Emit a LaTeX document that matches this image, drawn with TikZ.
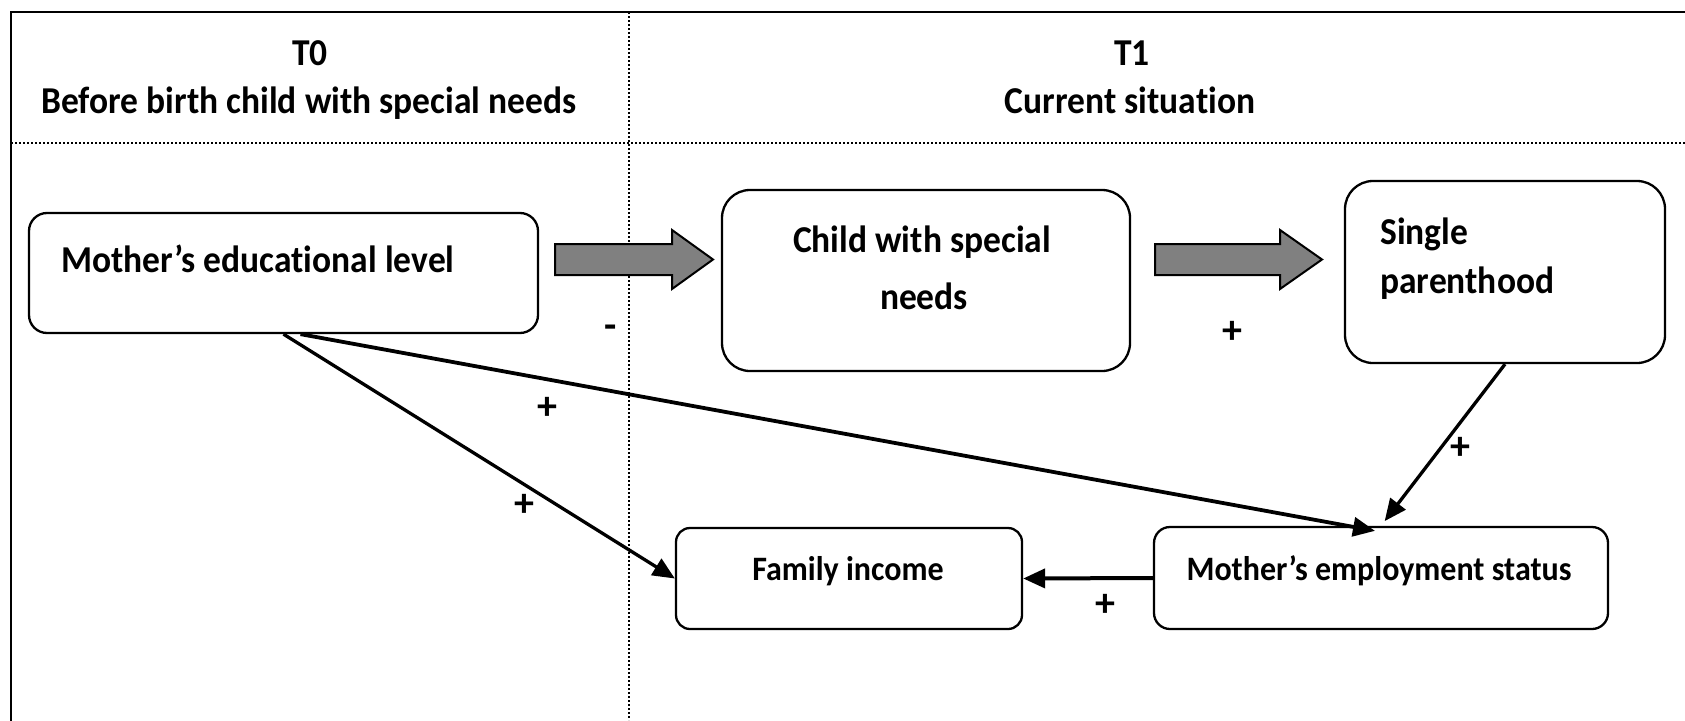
\documentclass[tikz,border=0pt]{standalone}
\usepackage{fontspec}
\usepackage{graphicx}
\setmainfont{Carlito}[Ligatures=NoCommon]
\usetikzlibrary{arrows.meta}
\definecolor{arrgray}{HTML}{808080}
\newcommand{\tall}[1]{\scalebox{1}[1.07]{#1}}
\begin{document}
\begin{tikzpicture}[x=1pt,y=-1pt,
  box/.style={draw, line width=2.3pt, rectangle, inner sep=0pt},
  big/.style={font=\fontsize{35.5}{40}\selectfont\bfseries, inner sep=0pt},
  sml/.style={font=\fontsize{32}{38}\selectfont\bfseries, inner sep=0pt},
  sign/.style={font=\fontsize{40}{44}\selectfont\bfseries, inner sep=0pt},
  conn/.style={line width=3.3pt, -{Triangle[length=22pt,width=19pt]}},
  blockarrow/.style={draw, line width=2pt, fill=arrgray, line join=miter},
  sep/.style={line width=1.6pt, dash pattern=on 1.6pt off 2.4pt}
]
\useasboundingbox (0,0) rectangle (1685,720);

% frame and separators
\draw[line width=2.3pt] (11,722) -- (11,12) -- (1688,12);
\draw[sep] (629,12) -- (629,720);
\draw[sep] (11,143) -- (1685,143);

% headers
\node[big, anchor=base] (t0) at (310,65) {\tall{T0}};
\node[big, anchor=base] (t0b) at (309,113) {\tall{Before birth child with special needs}};
\node[big, anchor=base] (t1) at (1132,65) {\tall{T1}};
\node[big, anchor=base] (t1b) at (1130,113) {\tall{Current situation}};

% boxes
\node[box, rounded corners=18pt, minimum width=509pt, minimum height=120pt] (MEL) at (283.5,273) {};
\node[box, rounded corners=28pt, minimum width=408pt, minimum height=181pt] (CSN) at (926,280.5) {};
\node[box, rounded corners=28pt, minimum width=320pt, minimum height=182pt] (SP) at (1505,272) {};
\node[box, rounded corners=14pt, minimum width=346pt, minimum height=101pt] (FI) at (849,578.5) {};
\node[box, rounded corners=16pt, minimum width=454pt, minimum height=102pt] (MES) at (1381,578) {};

% box texts
\node[big, anchor=base west] (melt) at (61,272) {\tall{Mother’s educational level}};
\node[big, anchor=base] (csnt1) at (922,252) {\tall{Child with special}};
\node[big, anchor=base] (csnt2) at (924,309) {\tall{needs}};
\node[big, anchor=base west] (spt1) at (1380,244) {\tall{Single}};
\node[big, anchor=base west] (spt2) at (1380,293) {\tall{parenthood}};
\node[sml, anchor=base] (fit) at (848,580) {\tall{Family income}};
\node[sml, anchor=base] (mest) at (1379,580) {\tall{Mother’s employment status}};

% block arrows
\draw[blockarrow, shift={(555,259.5)}] (0,-15.5) -- (117,-15.5) -- (117,-29.5) -- (158,0) -- (117,29.5) -- (117,15.5) -- (0,15.5) -- cycle;
\draw[blockarrow, shift={(1155,259.5)}] (0,-15.5) -- (125,-15.5) -- (125,-29.5) -- (167,0) -- (125,29.5) -- (125,15.5) -- (0,15.5) -- cycle;

% connectors
\draw[conn] (MEL.south) -- (FI.west);
\draw[conn, line width=3.8pt] ([xshift=17pt]MEL.south) -- ([xshift=-6pt,yshift=-5pt]MES.north);
\draw[conn, shorten >=6pt] (SP.south) -- (MES.north);
\draw[conn, line width=4pt] (MES.west) -- (FI.east);

% signs
\node[sign] (s1) at (611,332) {-};
\node[sign] (s2) at (1232,332) {+};
\node[sign] (s3) at (547,408) {+};
\node[sign] (s4) at (524,505) {+};
\node[sign] (s5) at (1460,448) {+};
\node[sign] (s6) at (1105,605) {+};
\end{tikzpicture}
\end{document}
